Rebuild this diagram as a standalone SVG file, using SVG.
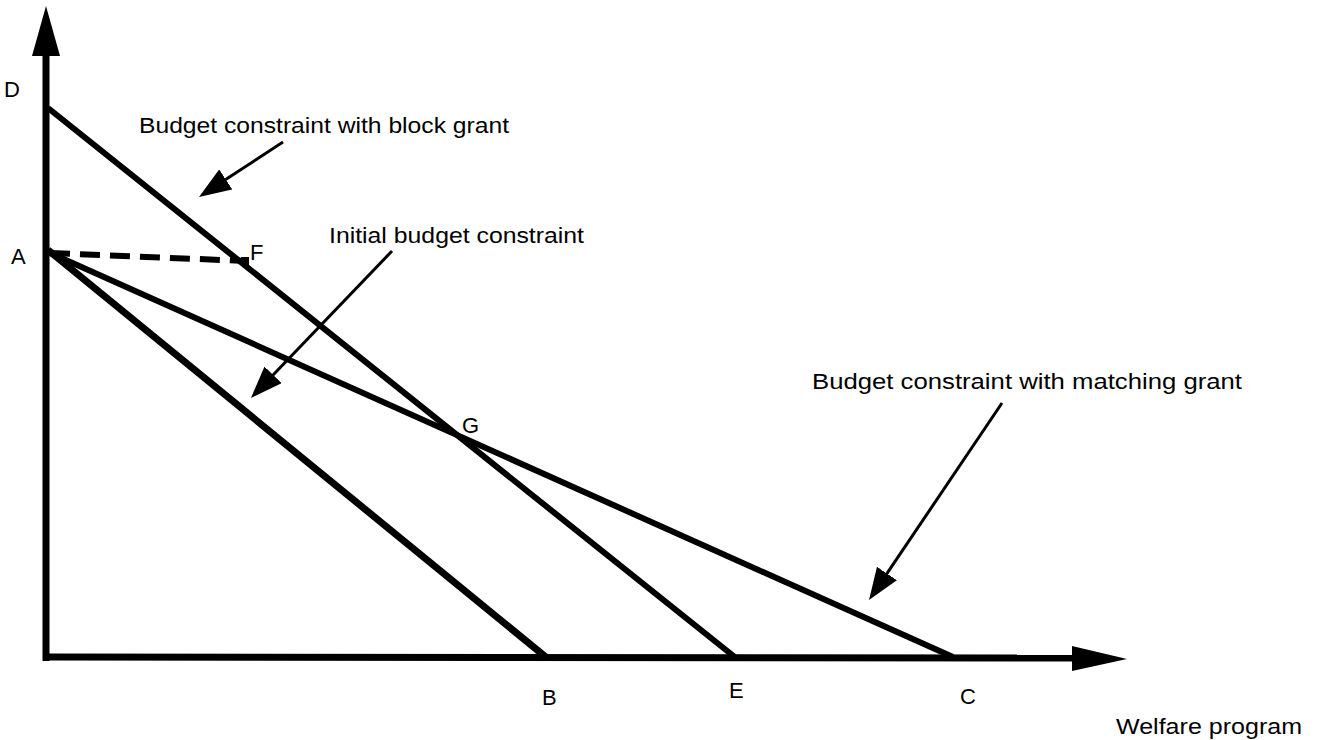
<svg xmlns="http://www.w3.org/2000/svg" width="1322" height="740" viewBox="0 0 1322 740">
<style>
.ax{stroke:#000;stroke-width:7;fill:none}
.bl{stroke:#000;stroke-width:6;fill:none;stroke-linecap:butt}
.an{stroke:#000;stroke-width:3;fill:none}
text{font-family:"Liberation Sans",Arial,sans-serif;font-size:22px;fill:#000}
</style>
<defs>
<marker id="ah" markerUnits="userSpaceOnUse" viewBox="0 0 32 24" markerWidth="32" markerHeight="24" refX="24" refY="12" orient="auto">
<path d="M0,0 L32,12 L0,24 z" fill="#000"/>
</marker>
</defs>
<g id="axes">
<line class="ax" x1="46" y1="661" x2="46" y2="50"/>
<polygon points="46,6 32,56 60,56" fill="#000"/>
<line class="ax" x1="43" y1="657" x2="1076" y2="658"/>
<polygon points="1127,659 1072,646 1072,671" fill="#000"/>
<text x="1116" y="734" textLength="186" lengthAdjust="spacingAndGlyphs">Welfare program</text>
</g>
<g id="connectors">
<line class="bl" x1="48" y1="108" x2="736" y2="658"/>
<line class="bl" style="stroke-width:7" x1="48" y1="250" x2="547" y2="658"/>
<line class="bl" x1="48" y1="252" x2="953" y2="657"/>
<line class="bl" x1="50" y1="253" x2="246" y2="261" stroke-dasharray="20 10"/>
<rect x="241" y="257" width="8" height="8" fill="#000"/>
<line class="an" x1="283" y1="142" x2="205.7" y2="192.6" marker-end="url(#ah)"/>
<line class="an" x1="392" y1="251" x2="256.5" y2="392.2" marker-end="url(#ah)"/>
<line class="an" x1="1002" y1="403" x2="873.5" y2="593.4" marker-end="url(#ah)"/>
</g>
<g id="point-D"><text x="4" y="97">D</text></g>
<g id="point-A"><text x="11" y="264">A</text></g>
<g id="point-F"><text x="250" y="260">F</text></g>
<g id="point-G"><text x="462" y="433">G</text></g>
<g id="point-B"><text x="542" y="705">B</text></g>
<g id="point-E"><text x="729" y="698">E</text></g>
<g id="point-C"><text x="960" y="704">C</text></g>
<g id="label-block"><text x="139" y="133" textLength="370" lengthAdjust="spacingAndGlyphs">Budget constraint with block grant</text></g>
<g id="label-initial"><text x="329" y="243" textLength="255" lengthAdjust="spacingAndGlyphs">Initial budget constraint</text></g>
<g id="label-matching"><text x="812" y="389" textLength="430" lengthAdjust="spacingAndGlyphs">Budget constraint with matching grant</text></g>
</svg>
